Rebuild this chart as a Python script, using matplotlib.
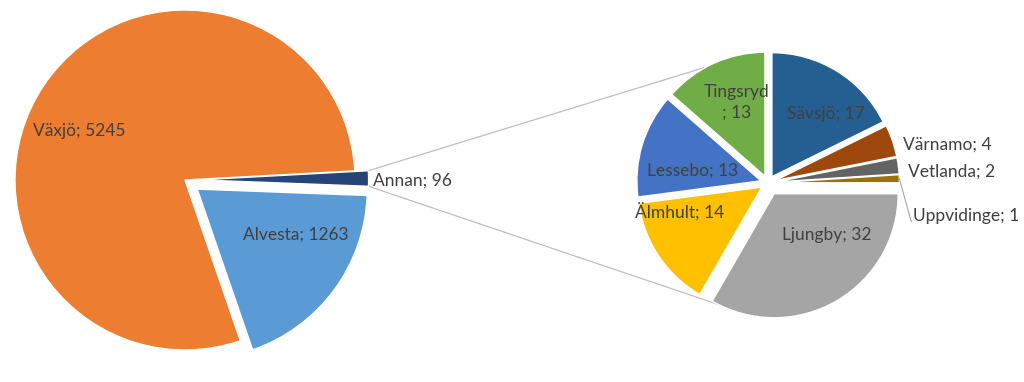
import numpy as np
import matplotlib
matplotlib.use("Agg")
import matplotlib.pyplot as plt

plt.rcParams['font.family'] = ['Lato', 'DejaVu Sans']

# main pie (clockwise order)
main_labels = ["Växjö", "Annan", "Alvesta"]
main_values = [5245, 96, 1263]
main_colors = ["#ED7D31", "#264478", "#5B9BD5"]
main_explode = [0.0, 0.08, 0.09]   # fraction of radius

# secondary pie (breakdown of "Annan", clockwise from top)
sub_labels = ["Sävsjö", "Värnamo", "Vetlanda", "Uppvidinge", "Ljungby", "Älmhult", "Lessebo", "Tingsryd"]
sub_values = [17, 4, 2, 1, 32, 14, 13, 13]
sub_colors = ["#255E91", "#9E480E", "#636363", "#997300", "#A5A5A5", "#FFC000", "#4472C4", "#70AD47"]
sub_explode = [0.06, 0.06, 0.06, 0.06, 0.10, 0.06, 0.06, 0.06]  # fraction of radius

W, H = 1024, 382
fig = plt.figure(figsize=(W / 100, H / 100), dpi=100)
ax = fig.add_axes([0, 0, 1, 1])

c1, r1 = (185, 202), 170
c2, r2 = (768, 199), 124

w1, _ = ax.pie(main_values, colors=main_colors, explode=[e * r1 for e in main_explode],
               startangle=-71, counterclock=False, center=c1, radius=r1, frame=True,
               wedgeprops=dict(edgecolor='white', linewidth=1))
w2, _ = ax.pie(sub_values, colors=sub_colors, explode=[e * r2 for e in sub_explode],
               startangle=90, counterclock=False, center=c2, radius=r2, frame=True,
               wedgeprops=dict(edgecolor='white', linewidth=1))
ax.set_xlim(0, W)
ax.set_ylim(0, H)
ax.set_aspect('equal')
ax.axis('off')

tc = '#404040'
fs = 12.5

def lab(text, c, r, dx, dy, **kw):
    ax.text(c[0] + dx * r, c[1] + dy * r, text, fontsize=fs, color=tc, **kw)

# main labels (offsets relative to pie centre, in radius units)
main_pos = {"Växjö": (-0.62, 0.29), "Alvesta": (0.65, -0.32)}
for name, val in zip(main_labels, main_values):
    if name in main_pos:
        dx, dy = main_pos[name]
        lab(f"{name}; {val}", c1, r1, dx, dy, ha='center', va='center')

# Annan label outside
wa = w1[main_labels.index("Annan")]
cx, cy = wa.center
tm = np.radians((wa.theta1 + wa.theta2) / 2)
ax.text(cx + wa.r * np.cos(tm) + 4, cy + wa.r * np.sin(tm) - 2,
        f"Annan; {main_values[main_labels.index('Annan')]}",
        fontsize=fs, color=tc, ha='left', va='center')

# connector lines from Annan wedge corners to secondary pie
for th, ang in [(max(wa.theta1, wa.theta2), 117), (min(wa.theta1, wa.theta2), -108)]:
    t = np.radians(th)
    x0, y0 = cx + wa.r * np.cos(t), cy + wa.r * np.sin(t)
    a = np.radians(ang)
    x1, y1 = c2[0] + (r2 + 7) * np.cos(a), c2[1] + (r2 + 7) * np.sin(a)
    ax.plot([x0, x1], [y0, y1], color='#BFBFBF', lw=0.9, zorder=0)

# secondary labels
sub_inside = {"Tingsryd": (-0.25, 0.65), "Sävsjö": (0.47, 0.56), "Lessebo": (-0.61, 0.10),
              "Älmhult": (-0.71, -0.24), "Ljungby": (0.47, -0.42)}
for name, val in zip(sub_labels, sub_values):
    if name in sub_inside:
        dx, dy = sub_inside[name]
        txt = f"{name}\n; {val}" if name == "Tingsryd" else f"{name}; {val}"
        lab(txt, c2, r2, dx, dy, ha='center', va='center', linespacing=1.4)

sub_outside = {"Värnamo": (1.09, 0.31), "Vetlanda": (1.13, 0.09), "Uppvidinge": (1.17, -0.27)}
for name, val in zip(sub_labels, sub_values):
    if name in sub_outside:
        dx, dy = sub_outside[name]
        lab(f"{name}; {val}", c2, r2, dx, dy, ha='left', va='center')

# leader line for Uppvidinge
wu = w2[sub_labels.index("Uppvidinge")]
tu = np.radians((wu.theta1 + wu.theta2) / 2)
ux, uy = wu.center[0] + wu.r * np.cos(tu), wu.center[1] + wu.r * np.sin(tu)
ax.plot([ux, c2[0] + 1.155 * r2], [uy, c2[1] - 0.31 * r2], color='#A6A6A6', lw=0.8)

fig.savefig("out.png", dpi=100)
